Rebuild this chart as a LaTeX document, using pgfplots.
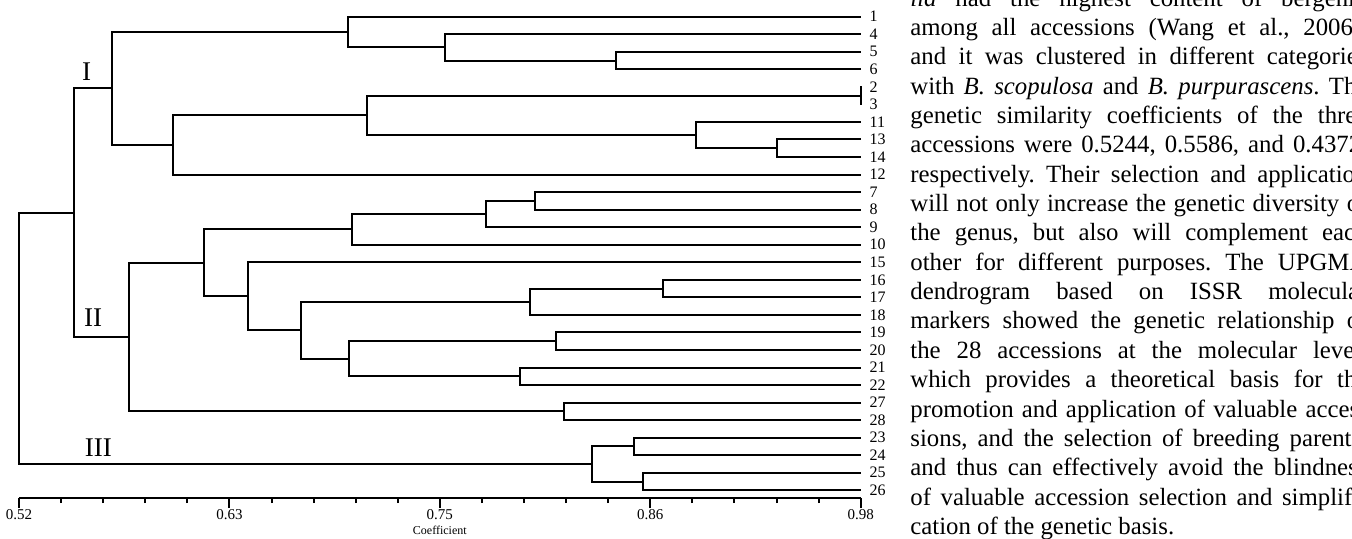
\documentclass[border=0pt]{standalone}
\usepackage{fontspec}
\setmainfont{Liberation Serif}
\usepackage{pgfplots}
\pgfplotsset{compat=1.18}
\newlength{\colw}
\setlength{\colw}{228.5pt}

\begin{document}
\begin{tikzpicture}
\useasboundingbox (0,0) rectangle (676pt,-269pt);
\clip (0,0) rectangle (676pt,-269pt);
\begin{axis}[
  at={(9.5pt,-249pt)}, anchor=south west,
  scale only axis, width=420.85pt, height=249pt,
  xmin=0.52, xmax=0.98, ymin=-0.439, ymax=27.95,
  axis x line=bottom, axis y line=right,
  x axis line style={-, line width=1pt},
  y axis line style={draw=none},
  xtick={0.52,0.635,0.75,0.865,0.98},
  xticklabels={0.52,0.63,0.75,0.86,0.98},
  minor x tick num=4,
  tick align=outside,
  major tick length=5pt, minor tick length=2.5pt,
  every tick/.style={black, line width=1pt},
  ytick={0,...,27},
  yticklabels={26,25,24,23,28,27,22,21,20,19,18,17,16,15,10,9,8,7,12,14,13,11,3,2,6,5,4,1},
  ytick style={draw=none},
  yticklabel style={font=\fontsize{8}{9}\selectfont, anchor=west, inner sep=0.3pt, xshift=-1pt},
  xticklabel style={font=\fontsize{7.5}{8}\selectfont, inner sep=0.5pt},
  /pgf/number format/assume math mode=true,
  xlabel={Coefficient},
  xlabel style={font=\fontsize{6}{7}\selectfont, inner sep=0pt, at={(axis description cs:0.5,0)}, anchor=center, yshift=-16pt},
  clip=false,
  br/.style={black, line width=1pt, line join=miter, mark=none},
]
% cluster I
\addplot[br] coordinates {(0.98,25) (0.846,25) (0.846,24) (0.98,24)};
\addplot[br] coordinates {(0.98,26) (0.753,26) (0.753,24.5) (0.846,24.5)};
\addplot[br] coordinates {(0.98,27) (0.700,27) (0.700,25.25) (0.753,25.25)};
\addplot[br] coordinates {(0.98,23.02) (0.98,21.98)};
\addplot[br] coordinates {(0.98,20) (0.934,20) (0.934,19) (0.98,19)};
\addplot[br] coordinates {(0.98,21) (0.890,21) (0.890,19.5) (0.934,19.5)};
\addplot[br] coordinates {(0.98,22.5) (0.710,22.5) (0.710,20.25) (0.890,20.25)};
\addplot[br] coordinates {(0.710,21.375) (0.604,21.375) (0.604,18) (0.98,18)};
\addplot[br] coordinates {(0.700,26.125) (0.571,26.125) (0.571,19.6875) (0.604,19.6875)};
% cluster II
\addplot[br] coordinates {(0.98,17) (0.802,17) (0.802,16) (0.98,16)};
\addplot[br] coordinates {(0.802,16.5) (0.775,16.5) (0.775,15) (0.98,15)};
\addplot[br] coordinates {(0.775,15.75) (0.702,15.75) (0.702,14) (0.98,14)};
\addplot[br] coordinates {(0.98,12) (0.872,12) (0.872,11) (0.98,11)};
\addplot[br] coordinates {(0.872,11.5) (0.799,11.5) (0.799,10) (0.98,10)};
\addplot[br] coordinates {(0.98,9) (0.8135,9) (0.8135,8) (0.98,8)};
\addplot[br] coordinates {(0.98,7) (0.794,7) (0.794,6) (0.98,6)};
\addplot[br] coordinates {(0.8135,8.5) (0.7005,8.5) (0.7005,6.5) (0.794,6.5)};
\addplot[br] coordinates {(0.799,10.75) (0.674,10.75) (0.674,7.5) (0.7005,7.5)};
\addplot[br] coordinates {(0.98,13) (0.645,13) (0.645,9.125) (0.674,9.125)};
\addplot[br] coordinates {(0.702,14.875) (0.621,14.875) (0.621,11.0625) (0.645,11.0625)};
\addplot[br] coordinates {(0.98,5) (0.818,5) (0.818,4) (0.98,4)};
\addplot[br] coordinates {(0.621,12.97) (0.580,12.97) (0.580,4.5) (0.818,4.5)};
\addplot[br] coordinates {(0.571,22.906) (0.550,22.906) (0.550,8.734) (0.580,8.734)};
% cluster III
\addplot[br] coordinates {(0.98,3) (0.856,3) (0.856,2) (0.98,2)};
\addplot[br] coordinates {(0.98,1) (0.861,1) (0.861,0) (0.98,0)};
\addplot[br] coordinates {(0.856,2.5) (0.833,2.5) (0.833,0.5) (0.861,0.5)};
% root
\addplot[br] coordinates {(0.550,15.82) (0.52,15.82) (0.52,1.5) (0.833,1.5)};

\node[font=\fontsize{13.5}{14}\selectfont] at (axis cs:0.557,23.85) {I};
\node[font=\fontsize{13.5}{14}\selectfont] at (axis cs:0.5605,9.82) {II};
\node[font=\fontsize{13.5}{14}\selectfont] at (axis cs:0.5634,2.41) {III};
\end{axis}

\node[anchor=base west, inner sep=0pt] at (455pt,-3pt) {\parbox[t]{\colw}{\fontsize{12.4}{14.68}\selectfont\frenchspacing\noindent
\makebox[\colw][s]{\textit{ila} had the highest content of bergenin}\\
\makebox[\colw][s]{among all accessions (Wang et al., 2006),}\\
\makebox[\colw][s]{and it was clustered in different categories}\\
\makebox[\colw][s]{with \textit{B. scopulosa} and \textit{B. purpurascens}. The}\\
\makebox[\colw][s]{genetic similarity coefficients of the three}\\
\makebox[\colw][s]{accessions were 0.5244, 0.5586, and 0.4372,}\\
\makebox[\colw][s]{respectively. Their selection and application}\\
\makebox[\colw][s]{will not only increase the genetic diversity of}\\
\makebox[\colw][s]{the genus, but also will complement each}\\
\makebox[\colw][s]{other for different purposes. The UPGMA}\\
\makebox[\colw][s]{dendrogram based on ISSR molecular}\\
\makebox[\colw][s]{markers showed the genetic relationship of}\\
\makebox[\colw][s]{the 28 accessions at the molecular level,}\\
\makebox[\colw][s]{which provides a theoretical basis for the}\\
\makebox[\colw][s]{promotion and application of valuable acces-}\\
\makebox[\colw][s]{sions, and the selection of breeding parents,}\\
\makebox[\colw][s]{and thus can effectively avoid the blindness}\\
\makebox[\colw][s]{of valuable accession selection and simplifi-}\\
cation of the genetic basis.}};
\end{tikzpicture}
\end{document}
